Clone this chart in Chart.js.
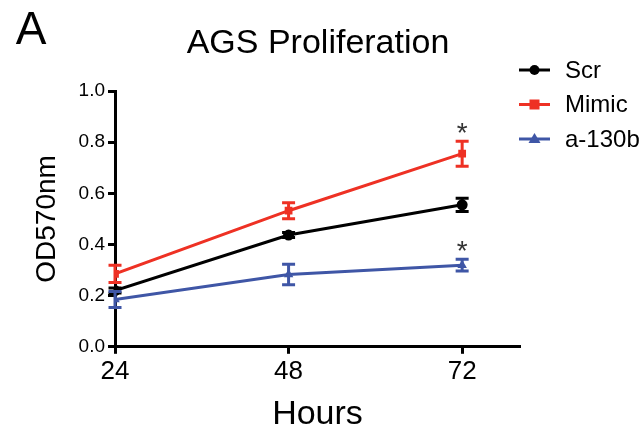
<!DOCTYPE html>
<html>
<head>
<meta charset="utf-8">
<script src="https://cdn.jsdelivr.net/npm/chart.js@4"></script>
<style>
body{margin:0;background:#fff}
#wrap{width:644px;height:432px;position:relative}
</style>
</head>
<body>
<div id="wrap"><canvas id="chart"></canvas></div>
<script>

// data
let hours = [24, 48, 72]
let xTicks = [24, 48, 72]
let yTicks = [0, 0.2, 0.4, 0.6, 0.8, 1.0]

let scr = [0.22, 0.437, 0.555]
let scrErr = [0.01, 0.01, 0.026]
let mimic = [0.285, 0.532, 0.755]
let mimicErr = [0.034, 0.031, 0.049]
let a130b = [0.185, 0.283, 0.319]
let a130bErr = [0.031, 0.04, 0.023]

let seriesNames = ["Scr", "Mimic", "a-130b"]
let colors = ["#000000", "#ee3124", "#3f56a6"]
let shapes = ["circle", "rect", "triangle"]

// asterisks: [series index, point index]
let stars = [[1, 2], [2, 2]]

let FONT = "'Liberation Sans', Arial, Helvetica, sans-serif"

function pts(vals){
return hours.map((h,i)=>({x:h, y:vals[i]}))
}

let errs = [scrErr, mimicErr, a130bErr]

let extras = {
id:"extras",
afterDatasetsDraw(chart){
let ctx = chart.ctx
let xs = chart.scales.x, ys = chart.scales.y
ctx.save()
// error bars
chart.data.datasets.forEach((ds,di)=>{
ctx.strokeStyle = colors[di]
ctx.lineWidth = 3
ds.data.forEach((p,i)=>{
let e = errs[di][i]
let px = xs.getPixelForValue(p.x)
let top = ys.getPixelForValue(p.y + e)
let bot = ys.getPixelForValue(p.y - e)
ctx.beginPath()
ctx.moveTo(px, top); ctx.lineTo(px, bot)
ctx.moveTo(px-6.5, top); ctx.lineTo(px+6.5, top)
ctx.moveTo(px-6.5, bot); ctx.lineTo(px+6.5, bot)
ctx.stroke()
})
})
// asterisks
ctx.fillStyle = "#333"
ctx.font = "28px " + FONT
ctx.textAlign = "center"
ctx.textBaseline = "middle"
stars.forEach(s=>{
let p = chart.data.datasets[s[0]].data[s[1]]
let e = errs[s[0]][s[1]]
ctx.fillText("*", xs.getPixelForValue(p.x), ys.getPixelForValue(p.y + e) - 7)
})
ctx.restore()
},
afterDraw(chart){
let ctx = chart.ctx
ctx.save()
// panel letter
ctx.fillStyle = "#000"
ctx.font = "46px " + FONT
ctx.textAlign = "center"
ctx.textBaseline = "alphabetic"
ctx.fillText("A", 31, 44)
// title
ctx.font = "34px " + FONT
ctx.textBaseline = "middle"
ctx.fillText("AGS Proliferation", 318, 44)
// legend
ctx.font = "24px " + FONT
ctx.textAlign = "left"
chart.data.datasets.forEach((ds,i)=>{
let y = 70 + i*34.5
ctx.strokeStyle = colors[i]
ctx.lineWidth = 3
ctx.beginPath()
ctx.moveTo(519, y); ctx.lineTo(550, y)
ctx.stroke()
ctx.fillStyle = colors[i]
ctx.beginPath()
if(shapes[i]=="circle"){ ctx.arc(534.5, y, 5, 0, Math.PI*2) }
else if(shapes[i]=="rect"){ ctx.rect(529.5, y-5, 10, 10) }
else { ctx.moveTo(534.5, y-6); ctx.lineTo(540.5, y+4); ctx.lineTo(528.5, y+4); ctx.closePath() }
ctx.fill()
ctx.fillStyle = "#000"
ctx.fillText(ds.label, 565, y+1)
})
ctx.restore()
}
}

new Chart(document.getElementById("chart"),{
type:"line",
data:{
datasets: seriesNames.map((n,i)=>({
label:n,
data:pts([scr, mimic, a130b][i]),
borderColor:colors[i],
backgroundColor:colors[i],
borderWidth:3,
pointStyle:shapes[i],
pointRadius:5.5,
pointBorderWidth:0,
tension:0
}))
},
options:{
responsive:true,
maintainAspectRatio:false,
animation:false,
layout:{padding:{left:30, right:124, top:91, bottom:0}},
plugins:{
legend:{display:false},
tooltip:{enabled:false},
title:{display:false}
},
scales:{
x:{
type:"linear",
min:24, max:80,
afterBuildTicks(axis){ axis.ticks = xTicks.map(v=>({value:v})) },
border:{color:"#000", width:3},
grid:{drawOnChartArea:false, drawTicks:true, tickLength:7, tickWidth:3, tickColor:"#000"},
ticks:{color:"#000", font:{family:FONT, size:26}, padding:2, maxRotation:0},
title:{display:true, text:"Hours", color:"#000", font:{family:FONT, size:34, lineHeight:1}, padding:{top:9, bottom:0}}
},
y:{
min:0, max:1,
afterBuildTicks(axis){ axis.ticks = yTicks.map(v=>({value:v})) },
border:{color:"#000", width:3},
grid:{drawOnChartArea:false, drawTicks:true, tickLength:7, tickWidth:3, tickColor:"#000"},
ticks:{color:"#000", font:{family:FONT, size:19}, padding:3, callback:v=>v.toFixed(1)},
title:{display:true, text:"OD570nm", color:"#000", font:{family:FONT, size:28, lineHeight:1.2}, padding:{top:0, bottom:12}}
}
}
},
plugins:[extras]
})

</script>
</body>
</html>
